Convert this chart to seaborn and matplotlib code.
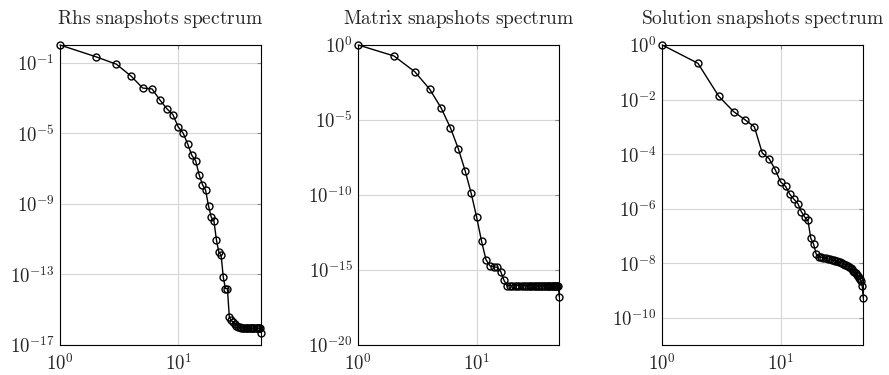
import numpy as np
import pandas as pd
import matplotlib
matplotlib.use("Agg")
import matplotlib.pyplot as plt
import seaborn as sns

# Mode index (1..50) shared by all three spectra
modes = list(range(1, 51))

# log10 of the normalised singular values of each snapshot set
rhs_log10 = [0.0, -0.66, -1.09, -1.77, -2.44, -2.49, -3.12, -3.61, -3.95, -4.65,
             -5.0, -5.61, -6.25, -6.55, -7.35, -7.91, -8.22, -9.12, -9.76, -9.97,
             -11.05, -11.73, -11.9, -13.16, -13.8, -13.8, -15.43, -15.6, -15.72, -15.82,
             -15.9, -15.96, -16.0, -16.02, -16.03, -16.04, -16.05, -16.05, -16.05, -16.05,
             -16.05, -16.05, -16.05, -16.05, -16.05, -16.05, -16.05, -16.05, -16.05, -16.3]

matrix_log10 = [0.0, -0.73, -1.78, -2.93, -4.18, -5.51, -6.91, -8.38, -9.89, -11.47,
                -13.07, -14.31, -14.73, -14.8, -14.82, -15.11, -15.67, -16.04, -16.04, -16.04,
                -16.04, -16.04, -16.04, -16.04, -16.04, -16.04, -16.04, -16.04, -16.04, -16.04,
                -16.04, -16.04, -16.04, -16.04, -16.04, -16.04, -16.04, -16.04, -16.04, -16.04,
                -16.04, -16.04, -16.04, -16.04, -16.04, -16.04, -16.04, -16.04, -16.04, -16.8]

solution_log10 = [0.0, -0.67, -1.88, -2.44, -2.74, -3.0, -3.96, -4.17, -4.57, -5.02,
                  -5.18, -5.48, -5.66, -5.82, -6.12, -6.31, -6.42, -7.09, -7.3, -7.67,
                  -7.77, -7.79, -7.81, -7.82, -7.84, -7.86, -7.88, -7.9, -7.91, -7.93,
                  -7.95, -7.97, -8.0, -8.02, -8.05, -8.08, -8.11, -8.15, -8.19, -8.23,
                  -8.27, -8.32, -8.37, -8.42, -8.48, -8.53, -8.59, -8.66, -8.84, -9.29]

titles = ["Rhs snapshots spectrum", "Matrix snapshots spectrum", "Solution snapshots spectrum"]
y_limits = [(-17, 0), (-20, 0), (-11, 0)]
y_tick_exps = [[-1, -5, -9, -13, -17], [0, -5, -10, -15, -20], [0, -2, -4, -6, -8, -10]]
x_tick_exps = [0, 1]

sns.set_style("white")
plt.rcParams["mathtext.fontset"] = "cm"
plt.rcParams["font.family"] = ["DejaVu Serif"]

fig = plt.figure(figsize=(8.89, 3.75), dpi=100)
lefts = [60 / 889, 358.3 / 889, 662.3 / 889]
width = 201 / 889
bottom, height = 30 / 375, 300 / 375

series = [rhs_log10, matrix_log10, solution_log10]
for left, title, logs, ylim, yexps in zip(lefts, titles, series, y_limits, y_tick_exps):
    ax = fig.add_axes([left, bottom, width, height])
    df = pd.DataFrame({"mode": modes, "sigma": np.power(10.0, logs)})
    sns.lineplot(data=df, x="mode", y="sigma", ax=ax, color="black", linewidth=1.0,
                 marker="o", markersize=5, markerfacecolor="none",
                 markeredgecolor="black", markeredgewidth=1.0, clip_on=False, zorder=3)
    ax.set_xscale("log")
    ax.set_yscale("log")
    ax.set_xlim(1, 50)
    ax.set_ylim(10.0 ** ylim[0], 10.0 ** ylim[1])
    ax.set_xticks([10.0 ** e for e in x_tick_exps])
    ax.set_xticklabels([rf"$10^{{{e}}}$" for e in x_tick_exps])
    ax.set_yticks([10.0 ** e for e in yexps])
    ax.set_yticklabels([rf"$10^{{{e}}}$" for e in yexps])
    ax.minorticks_off()
    ax.tick_params(axis="both", which="major", direction="in", length=3, width=0.8,
                   color="#888888", top=True, right=True)
    ax.tick_params(axis="x", labelsize=13.5, pad=6)
    ax.tick_params(axis="y", labelsize=13.5, pad=4)
    ax.grid(True, which="major", color="#d6d6d6", linewidth=0.8)
    ax.set_axisbelow(True)
    for sp in ax.spines.values():
        sp.set_color("black")
        sp.set_linewidth(0.8)
    ax.set_xlabel("")
    ax.set_ylabel("")
    ax.set_title(rf"$\mathrm{{{title.replace(' ', r'\ ')}}}$", fontsize=14, pad=15)

fig.savefig("out.png", dpi=100)
